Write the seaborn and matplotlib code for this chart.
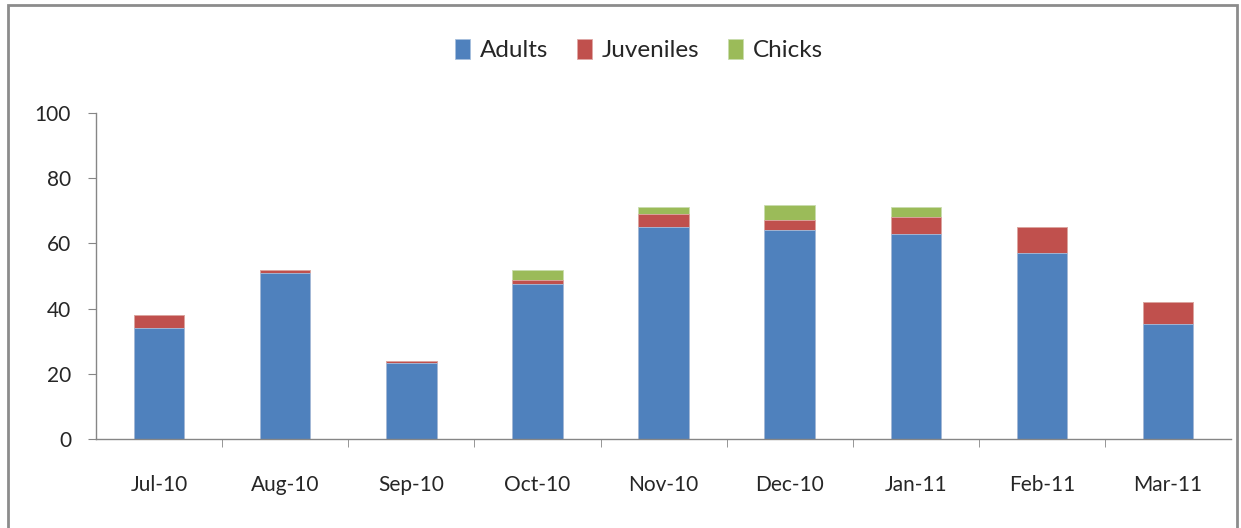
import numpy as np
import pandas as pd
import seaborn as sns
import matplotlib.pyplot as plt
from matplotlib.patches import Rectangle
from matplotlib.ticker import FixedLocator

months = ["Jul-10", "Aug-10", "Sep-10", "Oct-10", "Nov-10", "Dec-10", "Jan-11", "Feb-11", "Mar-11"]
adults = [34, 51, 23.4, 47.6, 65, 64, 62.8, 57, 35.4]
juveniles = [4, 0.8, 0.5, 1.1, 4, 3.2, 5.2, 8, 6.5]
chicks = [0, 0, 0, 3, 2.2, 4.5, 3.2, 0, 0]

df = pd.DataFrame({"month": months, "Adults": adults, "Juveniles": juveniles, "Chicks": chicks})
df["aj"] = df["Adults"] + df["Juveniles"]
df["total"] = df["aj"] + df["Chicks"]

sns.set_style("white")
plt.rcParams["font.family"] = ["Lato", "DejaVu Sans"]

fig = plt.figure(figsize=(12.41, 5.28), dpi=100)
ax = fig.add_axes([0.0774, 0.1686, 0.9146, 0.6174])

# stacked bars: draw cumulative heights back to front
sns.barplot(data=df, x="month", y="total", color="#9BBB59", width=0.4, saturation=1, ax=ax,
            label="Chicks", linewidth=0.6, edgecolor="#c9dcae")
sns.barplot(data=df, x="month", y="aj", color="#C0504D", width=0.4, saturation=1, ax=ax,
            label="Juveniles", linewidth=0.6, edgecolor="#e0a8a6")
sns.barplot(data=df, x="month", y="Adults", color="#4F81BD", width=0.4, saturation=1, ax=ax,
            label="Adults", linewidth=0.6, edgecolor="#a7c0de")

handles, labels = ax.get_legend_handles_labels()
if ax.get_legend() is not None:
    ax.get_legend().remove()

ax.set_xlim(-0.5, len(months) - 0.5)
ax.set_ylim(0, 100)
ax.set_yticks(range(0, 101, 20))
ax.set_xlabel("")
ax.set_ylabel("")

for s in ["top", "right"]:
    ax.spines[s].set_visible(False)
for s in ["left", "bottom"]:
    ax.spines[s].set_color("#868686")
    ax.spines[s].set_linewidth(1)

ax.tick_params(axis="y", which="major", length=6, color="#868686", labelsize=15, pad=12, direction="out", left=True)
ax.tick_params(axis="x", which="major", length=0, labelsize=15, pad=26)
ax.xaxis.set_minor_locator(FixedLocator(np.arange(0.5, len(months) - 1, 1)))
ax.tick_params(axis="x", which="minor", length=6, color="#868686", direction="out", bottom=True)

order = [labels.index(n) for n in ["Adults", "Juveniles", "Chicks"]]
fig.legend([handles[i] for i in order], [labels[i] for i in order],
           loc="center", bbox_to_anchor=(0.515, 0.905), ncol=3, frameon=False,
           fontsize=17.5, handlelength=0.6, handleheight=0.9, handletextpad=0.4, columnspacing=1.2)

fig.patches.append(Rectangle((0.0065, -0.01), 0.99, 1.0, transform=fig.transFigure,
                             fill=False, edgecolor="#8c8c8c", linewidth=2))

fig.savefig("out.png", dpi=100)
